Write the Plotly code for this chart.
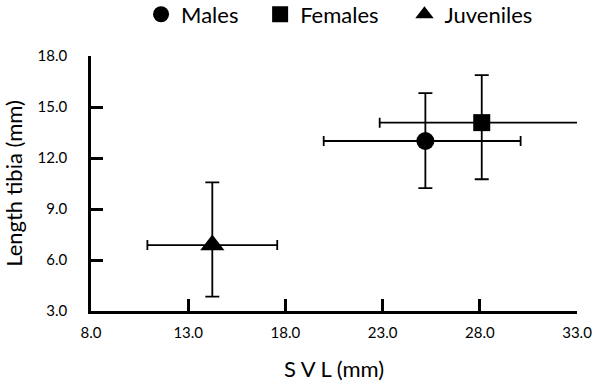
import plotly.graph_objects as go

groups = ["Males", "Females", "Juveniles"]
symbols = ["circle", "square", "triangle-up"]
svl_mean = [25.2, 28.1, 14.24]
svl_err_plus = [4.9, 5.02, 3.34]
svl_err_minus = [5.23, 5.25, 3.34]
tibia_mean = [13.0, 14.08, 6.88]
tibia_err_plus = [2.82, 2.8, 3.69]
tibia_err_minus = [2.77, 3.33, 3.04]
marker_sizes = [18, 17, 21]

x_ticks = [8, 13, 18, 23, 28, 33]
y_ticks = [3, 6, 9, 12, 15, 18]

legend_x = [0.103, 0.348, 0.645]

FONT = "Lato"

fig = go.Figure()
legend_ids = ["legend", "legend2", "legend3"]
for i, g in enumerate(groups):
    fig.add_trace(go.Scatter(
        x=[svl_mean[i]], y=[tibia_mean[i]], name=g, mode="markers",
        legend=legend_ids[i],
        marker=dict(symbol=symbols[i], size=marker_sizes[i], color="black"),
        error_x=dict(type="data", symmetric=False, array=[svl_err_plus[i]],
                     arrayminus=[svl_err_minus[i]], color="black",
                     thickness=1.8, width=5),
        error_y=dict(type="data", symmetric=False, array=[tibia_err_plus[i]],
                     arrayminus=[tibia_err_minus[i]], color="black",
                     thickness=1.8, width=7),
    ))

axis_common = dict(showline=True, linecolor="black", linewidth=2.5,
                   ticks="inside", ticklen=12, tickwidth=2.5, tickcolor="black",
                   showgrid=False, zeroline=False,
                   tickfont=dict(family=FONT, size=15, color="black"),
                   tickformat=".1f")

fig.update_xaxes(range=[8, 33], tickvals=x_ticks, ticklabelstandoff=6,
                 title=dict(text="S V L (mm)", standoff=22,
                            font=dict(family=FONT, size=22, color="black")),
                 **axis_common)
fig.update_yaxes(range=[3, 18], tickvals=y_ticks, ticklabelstandoff=18,
                 title=dict(text="Length tibia (mm)", standoff=10,
                            font=dict(family=FONT, size=22, color="black")),
                 **axis_common)

legend_common = dict(orientation="h", y=1.163, xanchor="left", yanchor="middle",
                     font=dict(family=FONT, size=22, color="black"),
                     itemsizing="trace", bgcolor="rgba(0,0,0,0)")

fig.update_layout(
    width=600, height=384,
    margin=dict(l=91, r=23, t=56, b=73, autoexpand=False),
    paper_bgcolor="white", plot_bgcolor="white",
    showlegend=True,
    legend=dict(x=legend_x[0], **legend_common),
    legend2=dict(x=legend_x[1], **legend_common),
    legend3=dict(x=legend_x[2], **legend_common),
)

fig.write_html("out.html", config={"displayModeBar": False},
               post_script="document.body.style.margin='0';")
